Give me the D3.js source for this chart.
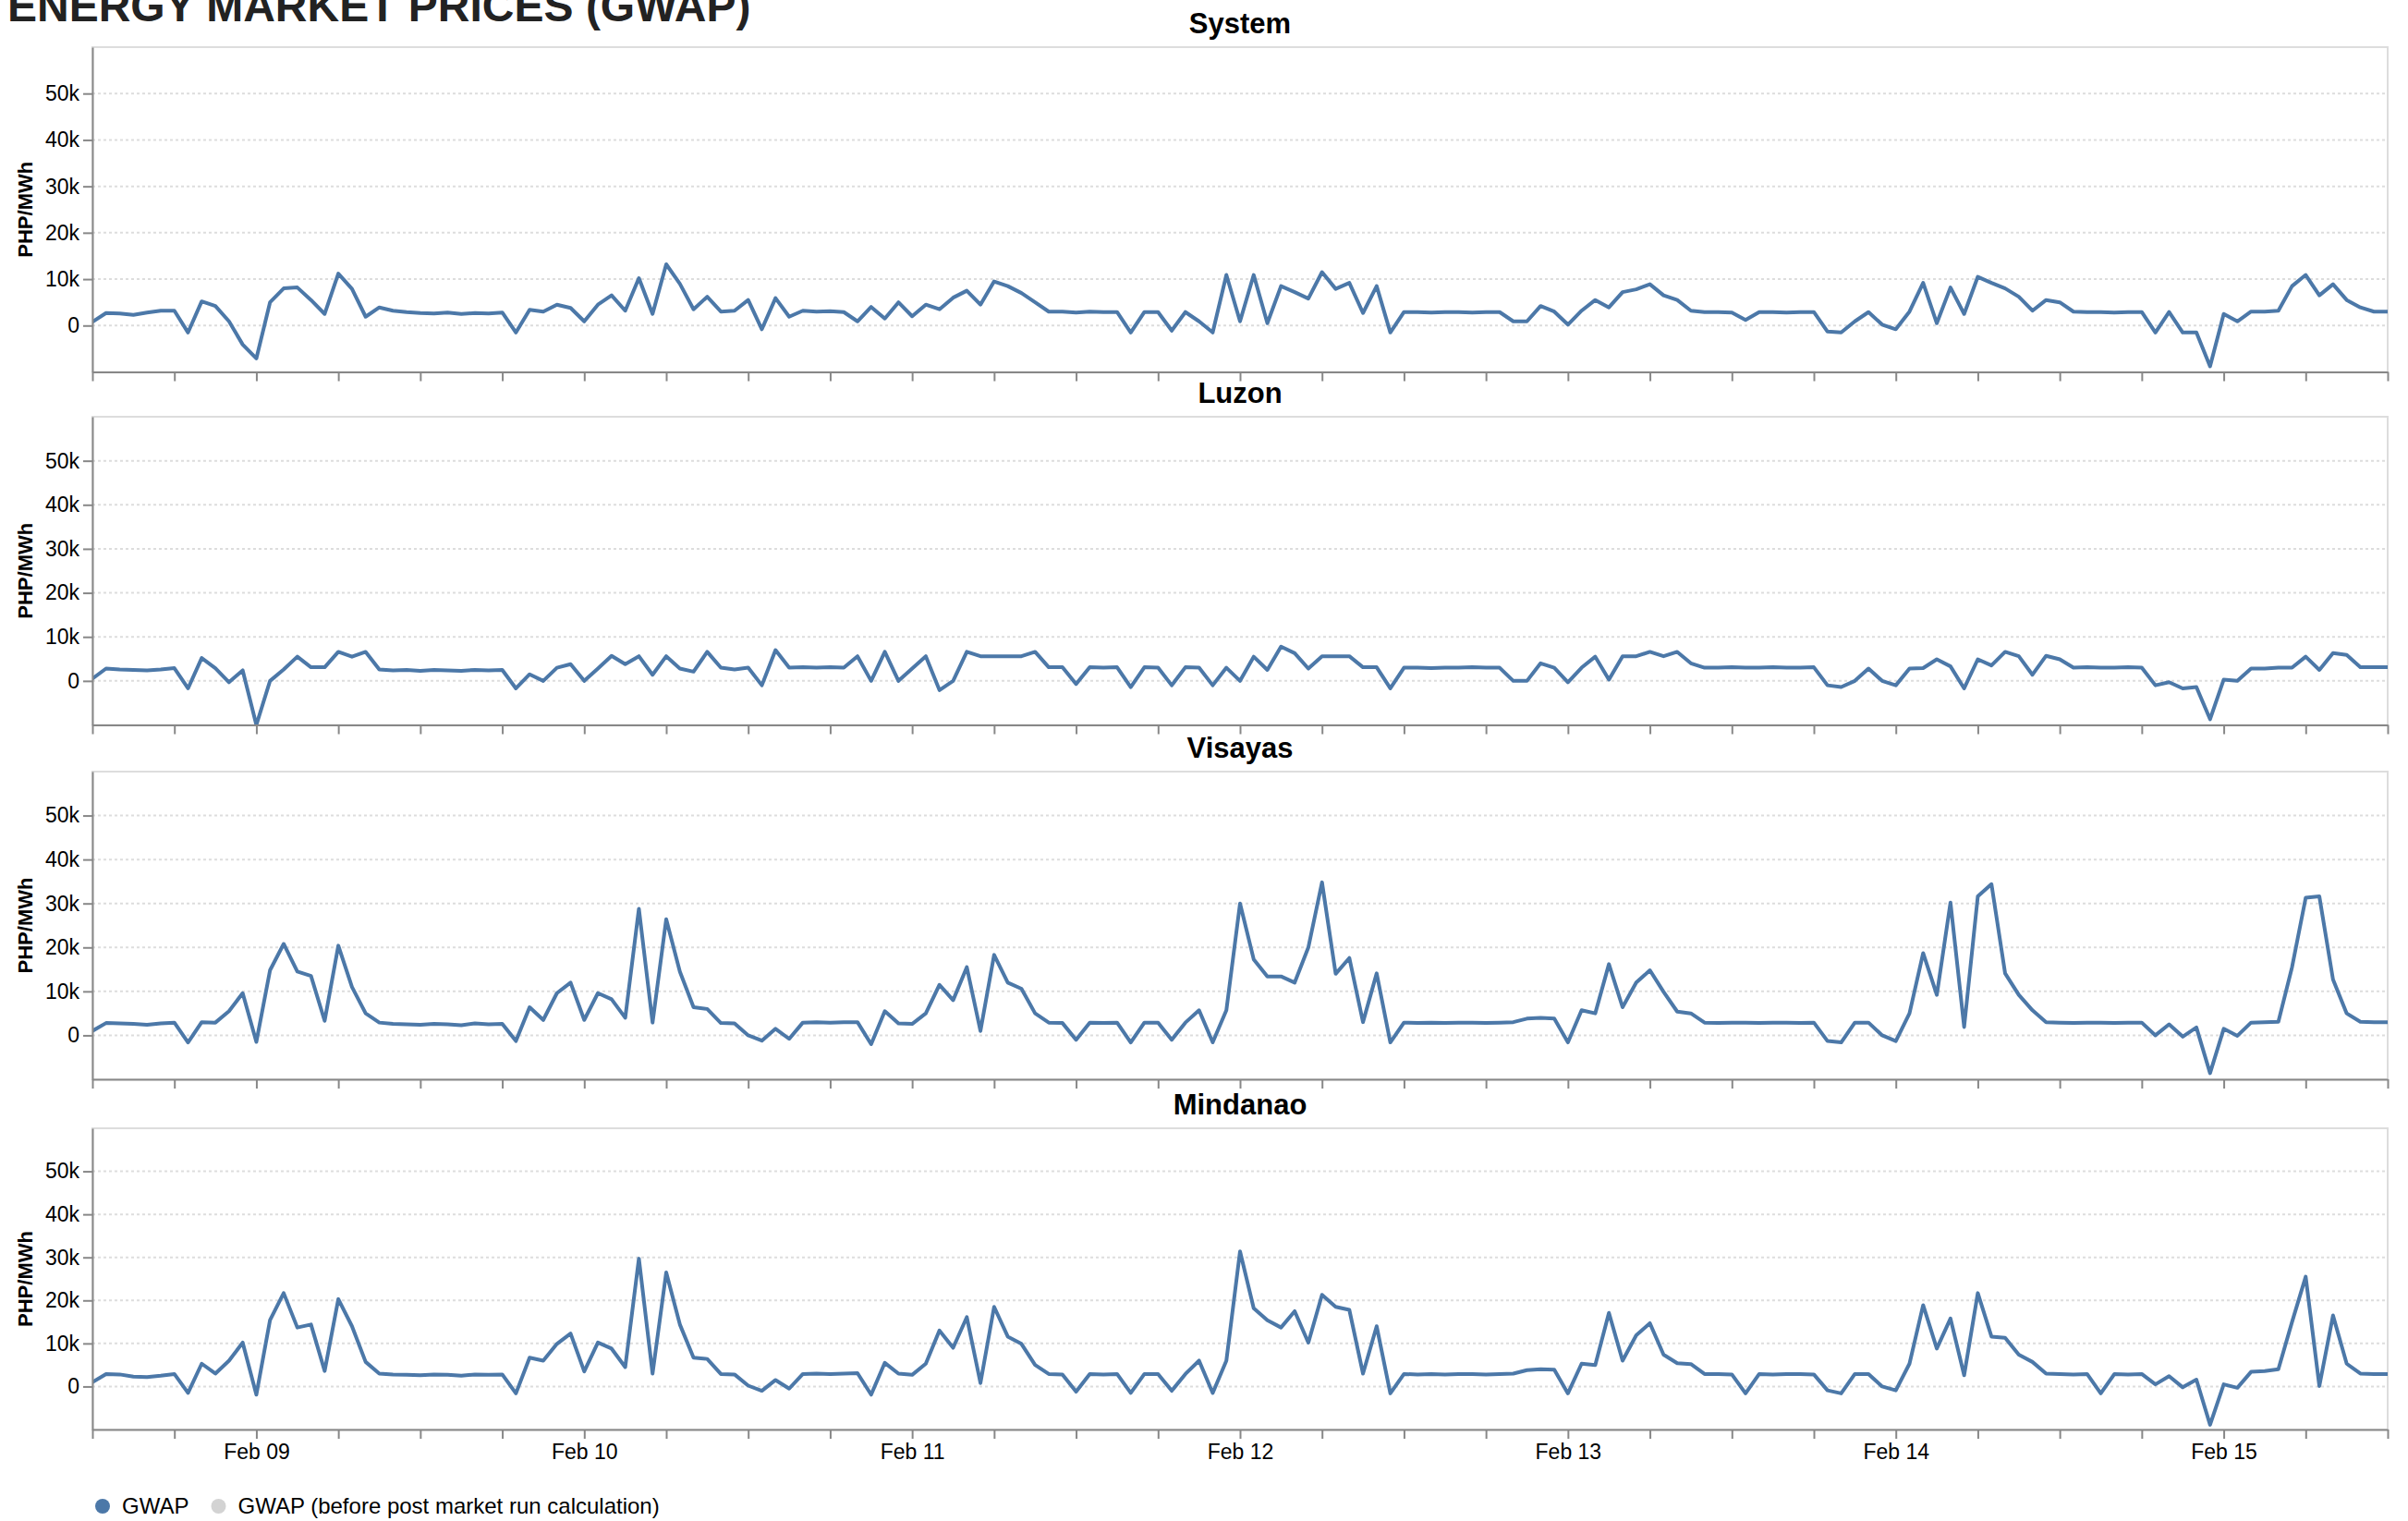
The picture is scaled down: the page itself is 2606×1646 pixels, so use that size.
<!DOCTYPE html>
<html>
<head>
<meta charset="utf-8">
<script src="https://cdn.jsdelivr.net/npm/d3@7"></script>
<style>
  body { margin: 0; background: #fff; }
  svg { display: block; font-family: "Liberation Sans", Arial, Helvetica, sans-serif; }
</style>
</head>
<body>
<div id="chart"></div>
<script>
// GWAP, thousand PHP/MWh, one reading per hour from Feb 08 12:00 to Feb 15 12:00
var startTime = new Date(2024, 1, 8, 12, 0);

var regions = ["System", "Luzon", "Visayas", "Mindanao"];

var systemGwap = [
  0.8, 2.7, 2.6, 2.3, 2.8, 3.2, 3.2, -1.5, 5.2, 4.2, 0.9, -4.1,
  -7.1, 5.0, 8.0, 8.2, 5.5, 2.5, 11.2, 7.9, 1.9, 3.9, 3.2, 2.9,
  2.7, 2.6, 2.8, 2.5, 2.7, 2.6, 2.8, -1.5, 3.4, 3.0, 4.5, 3.8,
  0.9, 4.5, 6.5, 3.2, 10.2, 2.5, 13.2, 9.0, 3.5, 6.2, 3.0, 3.2,
  5.5, -0.8, 5.9, 1.9, 3.2, 3.0, 3.1, 2.9, 0.9, 4.0, 1.5, 5.0,
  2.0, 4.5, 3.5, 6.0, 7.5, 4.5, 9.5, 8.5, 7.0, 5.0, 3.0, 3.0,
  2.8, 3.0, 2.9, 2.9, -1.5, 2.9, 2.9, -1.1, 2.9, 0.9, -1.5, 10.9,
  0.9, 10.9, 0.5, 8.5, 7.2, 5.8, 11.5, 7.9, 9.2, 2.7, 8.5, -1.5,
  2.9, 2.9, 2.8, 2.9, 2.9, 2.8, 2.9, 2.9, 0.9, 0.9, 4.2, 3.0,
  0.2, 3.2, 5.5, 3.9, 7.2, 7.8, 8.9, 6.5, 5.5, 3.2, 2.9, 2.9,
  2.8, 1.2, 2.9, 2.9, 2.8, 2.9, 2.9, -1.3, -1.5, 0.9, 2.9, 0.2,
  -0.8, 3.0, 9.2, 0.5, 8.2, 2.5, 10.5, 9.2, 8.0, 6.2, 3.2, 5.5,
  5.0, 3.0, 2.9, 2.9, 2.8, 2.9, 2.9, -1.5, 2.9, -1.5, -1.5, -8.8,
  2.5, 0.9, 3.0, 3.0, 3.2, 8.5, 10.9, 6.5, 8.9, 5.5, 3.9, 3.0,
  3.0
];

var luzonGwap = [
  0.5, 2.8, 2.6, 2.5, 2.4, 2.6, 2.9, -1.7, 5.2, 2.9, -0.3, 2.4,
  -10.0, 0.0, 2.6, 5.5, 3.1, 3.1, 6.6, 5.5, 6.6, 2.6, 2.4, 2.5,
  2.3, 2.5, 2.4, 2.3, 2.5, 2.4, 2.5, -1.7, 1.5, 0.0, 3.0, 3.8,
  0.0, 2.8, 5.7, 3.8, 5.6, 1.4, 5.6, 2.8, 2.1, 6.6, 3.0, 2.6,
  3.0, -1.0, 7.0, 3.0, 3.1, 3.0, 3.1, 3.0, 5.6, 0.0, 6.6, 0.0,
  2.8, 5.6, -2.1, 0.0, 6.6, 5.6, 5.6, 5.6, 5.6, 6.6, 3.1, 3.1,
  -0.7, 3.1, 3.0, 3.1, -1.4, 3.1, 3.0, -1.0, 3.1, 3.0, -1.0, 3.0,
  0.0, 5.5, 2.5, 7.8, 6.3, 2.8, 5.6, 5.6, 5.6, 3.1, 3.1, -1.7,
  3.0, 3.0, 2.9, 3.0, 3.0, 3.1, 3.0, 3.0, 0.0, 0.0, 4.0, 3.0,
  -0.3, 3.0, 5.5, 0.3, 5.6, 5.6, 6.6, 5.6, 6.6, 4.0, 3.0, 3.0,
  3.1, 3.0, 3.0, 3.1, 3.0, 3.0, 3.1, -1.0, -1.4, 0.0, 2.8, 0.0,
  -1.0, 2.8, 2.9, 4.9, 3.3, -1.7, 4.9, 3.5, 6.6, 5.6, 1.4, 5.7,
  4.9, 3.0, 3.1, 3.0, 3.0, 3.1, 3.0, -1.0, -0.3, -1.7, -1.4, -8.7,
  0.3, 0.0, 2.8, 2.8, 3.0, 3.0, 5.5, 2.5, 6.3, 5.9, 3.1, 3.1,
  3.1
];

var visayasGwap = [
  1.0, 2.8, 2.7, 2.6, 2.4, 2.7, 2.9, -1.6, 3.0, 2.9, 5.5, 9.6,
  -1.5, 14.8, 20.8, 14.5, 13.5, 3.3, 20.4, 11.0, 5.0, 2.9, 2.6, 2.5,
  2.4, 2.6, 2.5, 2.3, 2.7, 2.5, 2.6, -1.3, 6.4, 3.5, 9.6, 12.0,
  3.5, 9.6, 8.2, 4.0, 28.8, 2.9, 26.4, 14.5, 6.4, 6.0, 2.8, 2.7,
  0.0, -1.2, 1.5, -0.8, 2.9, 3.0, 2.9, 3.0, 3.0, -2.0, 5.5, 2.7,
  2.6, 5.0, 11.5, 8.0, 15.5, 1.0, 18.3, 12.0, 10.6, 5.0, 2.9, 2.8,
  -1.0, 2.9, 2.8, 2.9, -1.6, 2.9, 2.9, -1.0, 2.9, 5.7, -1.6, 5.7,
  30.0, 17.3, 13.4, 13.4, 12.0, 20.0, 34.8, 14.0, 17.6, 3.0, 14.1, -1.6,
  2.9, 2.8, 2.9, 2.8, 2.9, 2.9, 2.8, 2.9, 3.0, 3.8, 4.0, 3.8,
  -1.6, 5.7, 5.0, 16.2, 6.4, 12.0, 14.8, 9.9, 5.4, 5.0, 2.9, 2.8,
  2.9, 2.9, 2.8, 2.9, 2.9, 2.8, 2.9, -1.3, -1.6, 2.9, 2.9, 0.0,
  -1.3, 5.0, 18.7, 9.2, 30.2, 1.9, 31.6, 34.4, 14.1, 9.2, 5.7, 3.0,
  2.9, 2.8, 2.9, 2.9, 2.8, 2.9, 2.9, 0.0, 2.5, -0.3, 1.8, -8.6,
  1.5, -0.1, 2.9, 3.0, 3.1, 15.5, 31.3, 31.6, 12.7, 5.0, 3.1, 3.0,
  3.0
];

var mindanaoGwap = [
  1.0, 2.9, 2.8, 2.3, 2.2, 2.5, 2.9, -1.5, 5.3, 3.0, 6.0, 10.2,
  -1.9, 15.4, 21.7, 13.7, 14.4, 3.6, 20.3, 14.0, 5.7, 3.0, 2.8, 2.7,
  2.6, 2.8, 2.7, 2.5, 2.8, 2.7, 2.8, -1.6, 6.7, 6.0, 9.9, 12.3,
  3.5, 10.2, 8.8, 4.5, 29.7, 3.0, 26.5, 14.4, 6.7, 6.4, 2.9, 2.8,
  0.2, -1.0, 1.5, -0.5, 2.9, 3.0, 2.9, 3.0, 3.1, -1.9, 5.5, 3.0,
  2.7, 5.3, 13.0, 9.0, 16.1, 0.8, 18.5, 11.6, 9.9, 5.0, 2.9, 2.8,
  -1.2, 2.9, 2.8, 2.9, -1.5, 2.9, 2.9, -1.0, 2.9, 6.0, -1.5, 6.0,
  31.4, 18.2, 15.4, 13.7, 17.5, 10.2, 21.3, 18.5, 17.8, 3.0, 14.0, -1.6,
  2.9, 2.8, 2.9, 2.8, 2.9, 2.9, 2.8, 2.9, 3.0, 3.8, 4.0, 3.9,
  -1.6, 5.3, 5.0, 17.1, 6.0, 11.9, 14.7, 7.4, 5.4, 5.2, 2.9, 2.9,
  2.8, -1.6, 2.9, 2.8, 2.9, 2.9, 2.8, -0.9, -1.6, 2.9, 2.9, 0.0,
  -0.9, 5.3, 18.9, 8.8, 15.8, 2.6, 21.7, 11.6, 11.3, 7.4, 5.7, 3.0,
  2.9, 2.8, 2.9, -1.6, 2.9, 2.8, 2.9, 0.5, 2.4, -0.2, 1.6, -8.9,
  0.5, -0.3, 3.4, 3.6, 4.0, 15.0, 25.5, 0.1, 16.5, 5.3, 3.0, 2.9,
  2.9
];

var seriesByRegion = [systemGwap, luzonGwap, visayasGwap, mindanaoGwap];
var yTicks = [0, 10, 20, 30, 40, 50];
var yDomain = [-10, 60];
var legendLabels = ["GWAP", "GWAP (before post market run calculation)"];
var legendColors = ["#4c78a8", "#d3d3d3"];

// layout
var width = 2606, height = 1646;
var plotLeft = 100, plotRight = 2584;
var panelTops = [51, 451, 835, 1221];
var panelBottoms = [402.5, 784.5, 1168, 1547];

var svg = d3.select("#chart").append("svg")
    .attr("width", width)
    .attr("height", height);

svg.append("text")
    .attr("x", 8)
    .attr("y", 23)
    .attr("fill", "#222")
    .style("font-size", "48px")
    .style("font-weight", "bold")
    .text("ENERGY MARKET PRICES (GWAP)");

var endTime = d3.timeHour.offset(startTime, systemGwap.length - 1);
var x = d3.scaleTime().domain([startTime, endTime]).range([plotLeft, plotRight]);
var sixHours = x.ticks(d3.timeHour.every(6));
var fmtDay = d3.timeFormat("%b %d");

var styleAxis = function(g) {
  g.attr("font-size", null).attr("font-family", null);
  g.selectAll(".domain").attr("stroke", "#888").attr("stroke-width", 2);
  g.selectAll(".tick line").attr("stroke", "#888").attr("stroke-width", 2);
  g.selectAll(".tick text").attr("fill", "#000").style("font-size", "23px");
};

regions.forEach(function(name, i) {
  var top = panelTops[i], bottom = panelBottoms[i];
  var values = seriesByRegion[i];
  var y = d3.scaleLinear().domain(yDomain).range([bottom, top]);
  var panel = svg.append("g");

  panel.append("text")
      .attr("x", (plotLeft + plotRight) / 2)
      .attr("y", top - 26)
      .attr("dy", "0.35em")
      .attr("text-anchor", "middle")
      .style("font-size", "31px")
      .style("font-weight", "bold")
      .text(name);

  // frame (top and right edges show)
  panel.append("rect")
      .attr("x", plotLeft)
      .attr("y", top)
      .attr("width", plotRight - plotLeft)
      .attr("height", bottom - top)
      .attr("fill", "none")
      .attr("stroke", "#ddd")
      .attr("stroke-width", 2);

  panel.append("g")
    .selectAll("line")
    .data(yTicks)
    .enter().append("line")
      .attr("x1", plotLeft)
      .attr("x2", plotRight)
      .attr("y1", d => y(d))
      .attr("y2", d => y(d))
      .attr("stroke", "#ddd")
      .attr("stroke-width", 2)
      .attr("stroke-dasharray", "3,3");

  var clipId = "clip-" + i;
  panel.append("clipPath").attr("id", clipId)
    .append("rect")
      .attr("x", plotLeft)
      .attr("y", top)
      .attr("width", plotRight - plotLeft)
      .attr("height", bottom - top);

  var line = d3.line()
      .x((d, k) => x(d3.timeHour.offset(startTime, k)))
      .y(d => y(d));

  panel.append("path")
      .datum(values)
      .attr("clip-path", "url(#" + clipId + ")")
      .attr("fill", "none")
      .attr("stroke", legendColors[0])
      .attr("stroke-width", 4)
      .attr("stroke-linejoin", "round")
      .attr("d", line);

  panel.append("g")
      .attr("transform", "translate(" + plotLeft + ",0)")
      .call(d3.axisLeft(y).tickValues(yTicks).tickSize(10).tickSizeOuter(0).tickPadding(4)
        .tickFormat(d => d === 0 ? "0" : d + "k"))
      .call(styleAxis);

  var last = i === regions.length - 1;
  panel.append("g")
      .attr("transform", "translate(0," + bottom + ")")
      .call(d3.axisBottom(x).tickValues(sixHours).tickSize(10).tickSizeOuter(0).tickPadding(6)
        .tickFormat(d => last && d.getHours() === 0 ? fmtDay(d) : ""))
      .call(styleAxis);

  panel.append("text")
      .attr("transform", "translate(27," + ((top + bottom) / 2) + ") rotate(-90)")
      .attr("dy", "0.35em")
      .attr("text-anchor", "middle")
      .style("font-size", "22px")
      .style("font-weight", "bold")
      .text("PHP/MWh");
});

var legend = svg.append("g").attr("transform", "translate(111,1630)");
var legendX = [0, 125.5];
legendLabels.forEach(function(label, i) {
  var item = legend.append("g").attr("transform", "translate(" + legendX[i] + ",0)");
  item.append("circle").attr("r", 8).attr("fill", legendColors[i]);
  item.append("text")
      .attr("x", 21)
      .attr("dy", "0.35em")
      .style("font-size", "24px")
      .text(label);
});
</script>
</body>
</html>
